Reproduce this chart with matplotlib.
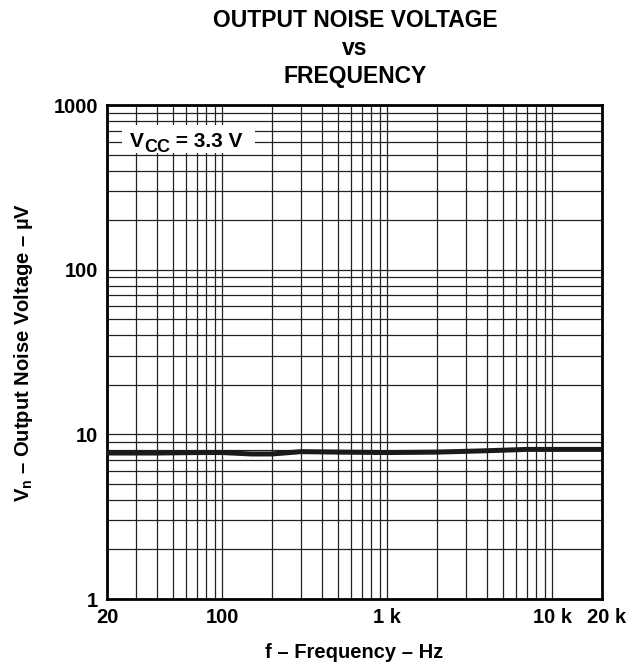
import matplotlib.pyplot as plt
import matplotlib.transforms as mtransforms
from matplotlib.ticker import FixedLocator, NullFormatter
from matplotlib.patches import Rectangle

plt.rcParams['font.family'] = ['Liberation Sans', 'DejaVu Sans']
plt.rcParams['font.weight'] = 'bold'
plt.rcParams['mathtext.fontset'] = 'custom'
plt.rcParams['mathtext.bf'] = 'Liberation Sans:bold'

freq = [20, 40, 70, 100, 150, 200, 300, 500, 1000, 2000, 4000, 7000, 10000, 20000]
noise = [7.7, 7.7, 7.75, 7.75, 7.6, 7.6, 7.85, 7.8, 7.75, 7.8, 7.95, 8.1, 8.1, 8.1]

xticks = [20, 100, 1000, 10000, 20000]
xlabels = ['20', '100', '1 k', '10 k', '20 k']
yticks = [1, 10, 100, 1000]
ylabels = ['1', '10', '100', '1000']

fig = plt.figure(figsize=(6.43, 6.66), dpi=100)
ax = fig.add_axes([0.1664, 0.1006, 0.7698, 0.7417])

ax.plot(freq, noise, color='#1a1a1a', lw=3.6, solid_capstyle='butt', zorder=3)

ax.set_xscale('log')
ax.set_yscale('log')
ax.set_xlim(20, 20000)
ax.set_ylim(1, 1000)

ax.xaxis.set_major_locator(FixedLocator(xticks))
ax.set_xticklabels(xlabels)
ax.xaxis.set_minor_locator(FixedLocator([d * m for d in [10, 100, 1000] for m in range(2, 10)]))
ax.xaxis.set_minor_formatter(NullFormatter())
ax.yaxis.set_major_locator(FixedLocator(yticks))
ax.set_yticklabels(ylabels)
ax.yaxis.set_minor_locator(FixedLocator([d * m for d in [1, 10, 100] for m in range(2, 10)]))
ax.yaxis.set_minor_formatter(NullFormatter())

ax.grid(True, which='both', color='#222222', lw=0.9)
ax.tick_params(which='both', length=0, labelsize=14.5, pad=6.5)
for s in ax.spines.values():
    s.set_linewidth(2)

# nudge the last x label a little right, like the original
lbl = ax.get_xticklabels()[-1]
lbl.set_transform(lbl.get_transform() + mtransforms.ScaledTranslation(5 / 100, 0, fig.dpi_scale_trans))

# V_CC label on a white patch
ax.add_patch(Rectangle((0.030, 0.903), 0.269, 0.057, transform=ax.transAxes,
                       facecolor='white', edgecolor='none', zorder=4))
ax.text(0.0465, 0.915, 'V', transform=ax.transAxes, fontsize=15, fontweight='bold',
        va='baseline', ha='left', zorder=5)
ax.text(0.0747, 0.905, 'CC', transform=ax.transAxes, fontsize=13, fontweight='bold',
        va='baseline', ha='left', zorder=5)
ax.text(0.1273, 0.915, ' = 3.3 V', transform=ax.transAxes, fontsize=15, fontweight='bold',
        va='baseline', ha='left', zorder=5)

ax.set_xlabel('f – Frequency – Hz', fontsize=14.5, fontweight='bold', va='baseline')
ax.xaxis.set_label_coords(0.5, -0.119)
ax.set_ylabel(r'V$_{\mathbf{n}}$ – Output Noise Voltage – µV', fontsize=14.5,
              fontweight='bold', va='center')
ax.yaxis.set_label_coords(-0.168, 0.5)

fig.text(0.552, 1 - 27 / 666, 'OUTPUT NOISE VOLTAGE', ha='center', va='baseline', fontsize=16.5, fontweight='bold')
fig.text(0.552, 1 - 55 / 666, 'vs', ha='center', va='baseline', fontsize=16.5, fontweight='bold')
fig.text(0.552, 1 - 83 / 666, 'FREQUENCY', ha='center', va='baseline', fontsize=16.5, fontweight='bold')

plt.savefig('out.png', dpi=100)
